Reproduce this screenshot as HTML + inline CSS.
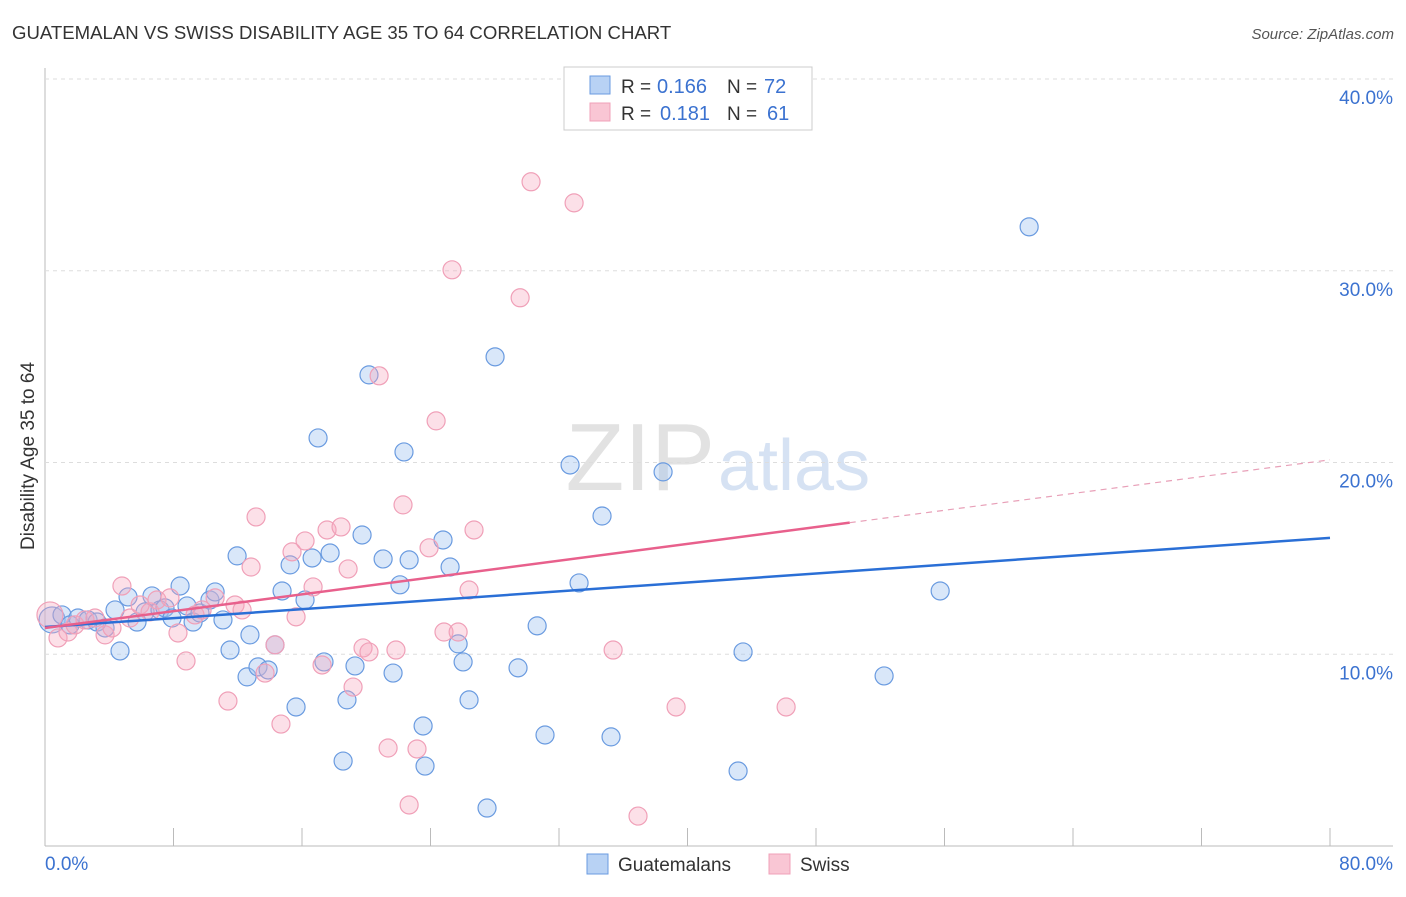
<!DOCTYPE html>
<html><head><meta charset="utf-8"><style>
body{margin:0;background:#fff;font-family:"Liberation Sans",sans-serif}
svg text{font-family:"Liberation Sans",sans-serif}
</style></head><body>
<svg id="c" width="1406" height="892">
<text x="12" y="39" font-size="18.6" fill="#333">GUATEMALAN VS SWISS DISABILITY AGE 35 TO 64 CORRELATION CHART</text>
<text x="1394" y="39" font-size="15" fill="#555" font-style="italic" text-anchor="end">Source: ZipAtlas.com</text>
<text x="34" y="456" font-size="19" fill="#333" text-anchor="middle" transform="rotate(-90 34 456)">Disability Age 35 to 64</text>
<text x="715" y="490" font-size="96" fill="#e2e2e2" font-family="Liberation Serif" text-anchor="end">ZIP</text>
<text x="718" y="490" font-size="72" fill="#d6e2f3">atlas</text>
<g id="grid"></g><g id="pts"></g><g id="lines"></g>
<g>
<rect x="564" y="67" width="248" height="63" fill="#fff" stroke="#ccc"/>
<rect x="590" y="76" width="20" height="18" fill="#b8d2f4" stroke="#6a9be0"/>
<rect x="590" y="103" width="20" height="18" fill="#f9c6d4" stroke="#f0a0b8"/>
<text x="621" y="93" font-size="19" fill="#333">R =</text>
<text x="657" y="93" font-size="20" fill="#3b72d0">0.166</text>
<text x="727" y="93" font-size="19" fill="#333">N =</text>
<text x="764" y="93" font-size="20" fill="#3b72d0">72</text>
<text x="621" y="120" font-size="19" fill="#333">R =</text>
<text x="660" y="120" font-size="20" fill="#3b72d0">0.181</text>
<text x="727" y="120" font-size="19" fill="#333">N =</text>
<text x="767" y="120" font-size="20" fill="#3b72d0">61</text>
</g>
<g>
<rect x="587" y="854" width="21" height="20" fill="#b8d2f4" stroke="#6a9be0"/>
<text x="618" y="871" font-size="19" fill="#333">Guatemalans</text>
<rect x="769" y="854" width="21" height="20" fill="#f9c6d4" stroke="#f0a0b8"/>
<text x="800" y="871" font-size="19" fill="#333">Swiss</text>
</g>
</svg>
<script>
const yTicks=[10,20,30,40];
const yTickLabels=["10.0%","20.0%","30.0%","40.0%"];
const xTickVals=[0,8,16,24,32,40,48,56,64,72,80];
const blueX=[0.44,1.06,1.56,2.05,2.68,3.24,3.74,4.36,4.67,5.17,5.73,6.23,6.66,7.16,7.47,7.91,8.41,8.84,9.22,9.65,10.27,10.59,11.08,11.96,11.52,12.76,12.58,13.26,13.89,14.32,14.76,15.26,15.63,16.19,16.63,17.0,17.37,17.75,18.56,18.8,19.3,19.74,20.17,21.05,21.67,22.1,22.35,22.67,23.54,23.66,24.78,25.22,25.72,26.03,26.4,27.52,28.02,29.45,30.64,31.13,32.69,33.25,34.68,35.24,38.48,43.15,43.46,52.24,55.73,61.27];
const blueY=[11.79,12.05,11.53,11.89,11.79,11.68,11.37,12.31,10.17,12.99,11.68,12.21,13.04,12.31,12.42,11.89,13.56,12.52,11.68,12.15,12.83,13.25,11.79,15.13,10.22,11.01,8.82,9.34,9.18,10.49,13.3,14.66,7.25,12.83,15.02,21.28,9.6,15.28,4.43,7.62,9.39,16.22,24.57,14.97,9.02,13.62,20.55,14.92,6.26,4.17,15.96,14.55,10.54,9.6,7.62,1.98,25.51,9.29,11.48,5.79,19.87,13.72,17.21,5.69,19.51,3.91,10.12,8.87,13.3,32.29];
const pinkX=[0.31,0.81,1.43,1.87,2.49,3.11,3.74,4.17,4.79,5.29,5.92,6.54,6.97,7.78,8.28,8.78,9.34,9.78,10.59,11.39,11.83,12.27,12.83,13.14,13.7,14.32,14.69,15.38,15.63,16.19,16.69,17.25,17.56,18.43,18.87,19.18,19.8,20.17,20.8,21.36,21.85,22.29,22.67,23.16,23.91,24.35,24.84,25.34,25.72,26.4,26.71,29.58,30.26,32.94,35.37,36.92,39.29,46.14];
const pinkY=[12.05,10.85,11.16,11.53,11.79,11.89,11.01,11.37,13.56,11.89,12.57,12.21,12.83,12.94,11.11,9.65,12.05,12.31,12.94,7.56,12.57,12.31,14.55,17.16,9.02,10.49,6.36,15.34,11.95,15.91,13.51,9.44,16.48,16.64,14.45,8.29,10.33,10.12,24.52,5.11,10.22,17.79,2.14,5.06,15.55,22.17,11.16,30.05,11.16,13.35,16.48,28.59,34.64,33.54,10.22,1.56,7.25,7.25];
const blueTrend=[11.42,16.07];
const pinkTrend=[11.37,20.14];
const pinkSolidEnd=50.1;
const X=v=>45+v*(1285/80), Y=v=>846-v*(767/40);
const NS="http://www.w3.org/2000/svg";
function mk(tag,attrs,parent){const e=document.createElementNS(NS,tag);for(const k in attrs)e.setAttribute(k,attrs[k]);parent.appendChild(e);return e;}
const grid=document.getElementById('grid');
let a=mk('line',{x1:45,y1:68,x2:45,y2:846,stroke:'#bbb'},grid);


a=mk('line',{x1:45,y1:846,x2:1393,y2:846,stroke:'#bbb'},grid);


yTicks.forEach((t,i)=>{
 const g=mk('line',{x1:45,y1:Y(t),x2:1393,y2:Y(t),stroke:'#ddd','stroke-dasharray':'4 4'},grid);
 
 
 const l=mk('text',{x:1393,y:Y(t)+25,'font-size':19,fill:'#3b72d0','text-anchor':'end'},grid);
 l.textContent=yTickLabels[i];
 
 
});
xTickVals.forEach(t=>{
 const tk=mk('line',{x1:X(t),y1:828,x2:X(t),y2:846,stroke:'#bbb'},grid);
 
 
});
let xl=mk('text',{x:45,y:870,'font-size':19,fill:'#3b72d0'},grid);xl.textContent='0.0%';


xl=mk('text',{x:1393,y:870,'font-size':19,fill:'#3b72d0','text-anchor':'end'},grid);xl.textContent='80.0%';


const pts=document.getElementById('pts');
function dots(xs,ys,fill,stroke,name){xs.forEach((x,i)=>{
 const c=mk('circle',{cx:X(x),cy:Y(ys[i]),r:i==0?13:9,fill:fill,stroke:stroke,'stroke-width':1.2},pts);
 
 
});}
dots(blueX,blueY,'rgba(160,195,240,0.4)','#6a9be0','guatemalan-point');
dots(pinkX,pinkY,'rgba(245,165,190,0.35)','#f0a0b8','swiss-point');
const lines=document.getElementById('lines');
let ln=mk('line',{x1:X(0),y1:Y(blueTrend[0]),x2:X(80),y2:Y(blueTrend[1]),stroke:'#2a6fd6','stroke-width':2.5},lines);


const pe=pinkTrend[0]+(pinkTrend[1]-pinkTrend[0])*pinkSolidEnd/80;
ln=mk('line',{x1:X(0),y1:Y(pinkTrend[0]),x2:X(pinkSolidEnd),y2:Y(pe),stroke:'#e8608c','stroke-width':2.5},lines);


ln=mk('line',{x1:X(pinkSolidEnd),y1:Y(pe),x2:X(80),y2:Y(pinkTrend[1]),stroke:'#e8a0b8','stroke-width':1.2,'stroke-dasharray':'6 5'},lines);


</script>
</body></html>
